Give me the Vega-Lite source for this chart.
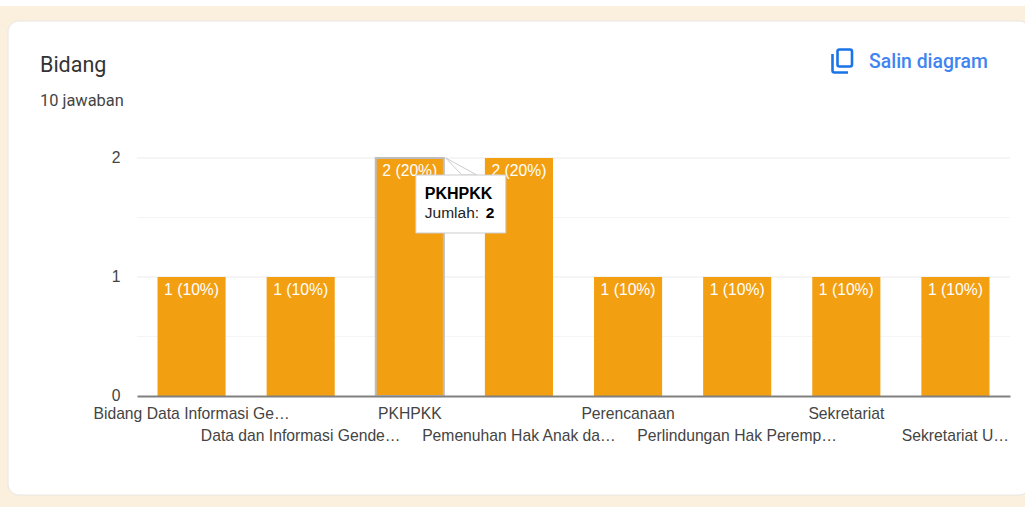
{
"$schema":"https://vega.github.io/schema/vega-lite/v6.json",
"width":873,"height":238,
"autosize":{"type":"none"},
"padding":{"left":137,"top":158,"right":15,"bottom":111},
"background":"#fbf0dd",
"title":{"text":"Bidang","subtitle":"10 jawaban","anchor":"start","frame":"group","dx":-97,"offset":-109,"zindex":1,"font":"Roboto","fontSize":21.5,"fontWeight":400,"color":"#333333","subtitleFont":"Roboto","subtitleFontSize":16.4,"subtitleColor":"#444444","subtitlePadding":16},
"view":{"stroke":null},
"data":{"values":[
{"bidang":"Bidang Data Informasi Ge…","jumlah":1,"label":"1 (10%)"},
{"bidang":"Data dan Informasi Gende…","jumlah":1,"label":"1 (10%)"},
{"bidang":"PKHPKK","jumlah":2,"label":"2 (20%)"},
{"bidang":"Pemenuhan Hak Anak da…","jumlah":2,"label":"2 (20%)"},
{"bidang":"Perencanaan","jumlah":1,"label":"1 (10%)"},
{"bidang":"Perlindungan Hak Peremp…","jumlah":1,"label":"1 (10%)"},
{"bidang":"Sekretariat","jumlah":1,"label":"1 (10%)"},
{"bidang":"Sekretariat U…","jumlah":1,"label":"1 (10%)"}
]},
"resolve":{"scale":{"x":"independent","y":"independent"},"axis":{"x":"independent","y":"independent"}},
"layer":[
{"data":{"values":[{"part":"card"}]},
 "mark":{"type":"rect","fill":"#ffffff","stroke":"#e8e6e2","strokeWidth":1,"cornerRadius":11},
 "encoding":{
  "x":{"datum":8,"type":"quantitative","scale":{"domain":[0,1025],"range":[-137,888],"nice":false,"zero":false},"axis":null},
  "x2":{"datum":1030},
  "y":{"datum":21,"type":"quantitative","scale":{"domain":[0,507],"range":[-158,349],"nice":false,"zero":false},"axis":null},
  "y2":{"datum":495}}},
{"data":{"values":[{"part":"strip"}]},
 "mark":{"type":"rect","fill":"#ffffff"},
 "encoding":{
  "x":{"datum":0,"type":"quantitative","scale":{"domain":[0,1025],"range":[-137,888],"nice":false,"zero":false},"axis":null},
  "x2":{"datum":1025},
  "y":{"datum":0,"type":"quantitative","scale":{"domain":[0,507],"range":[-158,349],"nice":false,"zero":false},"axis":null},
  "y2":{"datum":6}}},
{"data":{"values":[{"aksi":"Salin diagram"}]},
 "mark":{"type":"text","align":"left","baseline":"middle","font":"Roboto","fontSize":19.4,"fontWeight":500,"fill":"#3f84f0"},
 "encoding":{
  "text":{"field":"aksi"},
  "x":{"datum":869,"type":"quantitative","scale":{"domain":[0,1025],"range":[-137,888],"nice":false,"zero":false},"axis":null},
  "y":{"datum":62,"type":"quantitative","scale":{"domain":[0,507],"range":[-158,349],"nice":false,"zero":false},"axis":null}}},
{"data":{"values":[{"aksi":"ikon"}]},
 "mark":{"type":"point","filled":false,"opacity":1,"stroke":"#1a73e8","strokeWidth":2.6,"size":4,"shape":"M-4.5,-9.5 Q-4.5,-11.5 -2.5,-11.5 H8 Q10,-11.5 10,-9.5 V3.5 Q10,5.5 8,5.5 H-2.5 Q-4.5,5.5 -4.5,3.5 Z M-9.5,-7 V9.5 Q-9.5,11.5 -7.5,11.5 H6"},
 "encoding":{
  "x":{"datum":842,"type":"quantitative","scale":{"domain":[0,1025],"range":[-137,888],"nice":false,"zero":false},"axis":null},
  "y":{"datum":61,"type":"quantitative","scale":{"domain":[0,507],"range":[-158,349],"nice":false,"zero":false},"axis":null}}},
{"layer":[
 {"data":{"values":[{"v":0.5},{"v":1},{"v":1.5},{"v":2}]},
  "mark":{"type":"rule","strokeWidth":1},
  "encoding":{"y":{"field":"v","type":"quantitative","title":null,
    "scale":{"domain":[0,2],"nice":false},
    "axis":{"zindex":1,"values":[0,1,2],"tickCount":3,"grid":false,"ticks":false,"domain":false,"labelOverlap":false,"labelBound":false,"labelFlush":false,"labelFont":"Liberation Sans","labelFontSize":15.7,"labelColor":"#444444","labelPadding":17,"labelOffset":-1,"labelExpr":"datum.value===0?'0':datum.value===1?'1':'2'"}},
   "stroke":{"condition":{"test":"datum.v===1||datum.v===2","value":"#ebebeb"},"value":"#f5f5f5"}}},
 {"mark":{"type":"bar","fill":"#f39f12","strokeWidth":2},
  "encoding":{
   "x":{"field":"bidang","type":"nominal","sort":null,"title":null,
    "scale":{"paddingInner":0.376,"paddingOuter":0.188},
    "axis":{"zindex":1,"labelAngle":0,"labelFont":"Liberation Sans","labelFontSize":15.7,"labelColor":"#444444","labelLimit":0,"labelOverlap":false,"labelBound":false,"labelFlush":false,"labelPadding":10,"labelLineHeight":22,"ticks":false,"domainColor":"#808080","domainWidth":2,
     "labelExpr":"indexof(['Data dan Informasi Gende…','Pemenuhan Hak Anak da…','Perlindungan Hak Peremp…','Sekretariat U…'],datum.label)>=0?['',datum.label]:datum.label"}},
   "y":{"field":"jumlah","type":"quantitative","title":null},
   "stroke":{"condition":{"test":"datum.bidang==='PKHPKK'","value":"#bdbdbd"},"value":null}}},
 {"mark":{"type":"text","baseline":"top","dy":6,"font":"Liberation Sans","fontSize":15.7,"fill":"#ffffff"},
  "encoding":{"x":{"field":"bidang","type":"nominal","sort":null},"y":{"field":"jumlah","type":"quantitative"},"text":{"field":"label"}}},
 {"transform":[{"filter":"datum.bidang==='PKHPKK'"}],
  "mark":{"type":"point","filled":true,"opacity":1,"fill":"#ffffff","stroke":"#cccccc","strokeWidth":1,"size":4,"xOffset":36,"shape":"M0,0 L16,17 L31,17 Z"},
  "encoding":{"x":{"field":"bidang","type":"nominal","sort":null},"y":{"field":"jumlah","type":"quantitative"}}},
 {"transform":[{"filter":"datum.bidang==='PKHPKK'"}],
  "mark":{"type":"rect","fill":"#ffffff","stroke":"#cccccc","strokeWidth":1,"width":90,"height":58,"xOffset":51,"yOffset":46},
  "encoding":{"x":{"field":"bidang","type":"nominal","sort":null},"y":{"field":"jumlah","type":"quantitative"}}},
 {"transform":[{"filter":"datum.bidang==='PKHPKK'"}],
  "mark":{"type":"text","align":"left","baseline":"middle","dx":15,"dy":36,"font":"Liberation Sans","fontSize":16,"fontWeight":"bold","fill":"#000000"},
  "encoding":{"x":{"field":"bidang","type":"nominal","sort":null},"y":{"field":"jumlah","type":"quantitative"},"text":{"field":"bidang"}}},
 {"transform":[{"filter":"datum.bidang==='PKHPKK'"},{"calculate":"'Jumlah:'","as":"teks"}],
  "mark":{"type":"text","align":"left","baseline":"middle","dx":15,"dy":55,"font":"Liberation Sans","fontSize":15.5,"fill":"#222222"},
  "encoding":{"x":{"field":"bidang","type":"nominal","sort":null},"y":{"field":"jumlah","type":"quantitative"},"text":{"field":"teks"}}},
 {"transform":[{"filter":"datum.bidang==='PKHPKK'"}],
  "mark":{"type":"text","align":"left","baseline":"middle","dx":76,"dy":55,"font":"Liberation Sans","fontSize":15.5,"fontWeight":"bold","fill":"#000000"},
  "encoding":{"x":{"field":"bidang","type":"nominal","sort":null},"y":{"field":"jumlah","type":"quantitative"},"text":{"field":"jumlah","type":"quantitative"}}}
]}
]
}
